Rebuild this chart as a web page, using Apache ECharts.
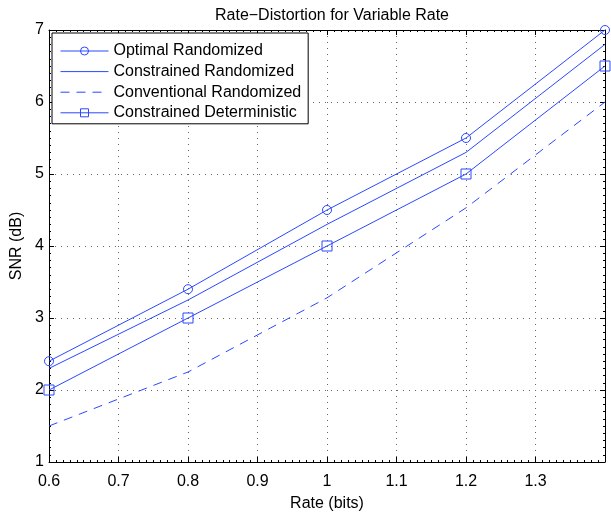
<!DOCTYPE html>
<html>
<head>
<meta charset="utf-8">
<script src="https://cdn.jsdelivr.net/npm/echarts@6/dist/echarts.min.js"></script>
<style>
html,body{margin:0;padding:0;background:#fff;}
#chart{width:611px;height:517px;}
</style>
</head>
<body>
<div id="chart"></div>
<script>
// Data
const rates = [0.6, 0.8, 1.0, 1.2, 1.4];
const optimalRandomized = [2.4, 3.4, 4.5, 5.5, 7.0];
const constrainedRandomized = [2.3, 3.25, 4.3, 5.3, 6.8];
const conventionalRandomized = [1.5, 2.25, 3.28, 4.53, 6.0];
const constrainedDeterministic = [2.0, 3.0, 4.0, 5.0, 6.5];
const seriesNames = ['Optimal Randomized', 'Constrained Randomized', 'Conventional Randomized', 'Constrained Deterministic'];
const xTicks = [0.6, 0.7, 0.8, 0.9, 1.0, 1.1, 1.2, 1.3];
const yTicks = [1, 2, 3, 4, 5, 6, 7];

const BLUE = '#2a48ff';
const FONT = '"Liberation Sans", Arial, Helvetica, sans-serif';
const pairs = (ys) => rates.map((x, i) => [x, ys[i]]);
const hiddenMarker = {color: 'rgba(0,0,0,0)', borderColor: 'rgba(0,0,0,0)', borderWidth: 0};
const hollowMarker = {color: 'rgba(255,255,255,0)', borderColor: BLUE, borderWidth: 1};

const chart = echarts.init(document.getElementById('chart'), null, {renderer: 'canvas'});

const tickCommon = {
  axisLine: {show: true, onZero: false, lineStyle: {color: '#000', width: 1}},
  axisTick: {show: true, inside: true, length: 5, lineStyle: {color: '#000', width: 1}},
  minorTick: {show: true, splitNumber: 10, length: 2, lineStyle: {color: '#000', width: 1}}
};

const option = {
  animation: false,
  backgroundColor: '#fff',
  textStyle: {fontFamily: FONT},
  title: {
    text: 'Rate\u2212Distortion for Variable Rate',
    left: 327, top: 3, textAlign: 'center',
    textStyle: {fontFamily: FONT, fontSize: 16, fontWeight: 'normal', color: '#000'}
  },
  grid: {left: 49, right: 6, top: 30, bottom: 49, containLabel: false},
  legend: {
    orient: 'vertical', left: 52, top: 33,
    data: [
      {name: seriesNames[0], itemStyle: hollowMarker},
      {name: seriesNames[1], itemStyle: hiddenMarker},
      {name: seriesNames[2], itemStyle: hiddenMarker},
      {name: seriesNames[3], itemStyle: hollowMarker}
    ],
    itemWidth: 48, itemHeight: 10, itemGap: 4.6,
    padding: [10, 7, 3, 8],
    borderColor: '#000', borderWidth: 1, backgroundColor: '#fff',
    lineStyle: {width: 1},
    textStyle: {fontFamily: FONT, fontSize: 16, lineHeight: 16, color: '#000'},
    selectedMode: false
  },
  xAxis: [
    Object.assign({
      type: 'value', min: 0.6, max: 1.4, interval: 0.1, position: 'bottom',
      name: 'Rate (bits)', nameLocation: 'middle', nameGap: 34,
      nameTextStyle: {fontFamily: FONT, fontSize: 16, color: '#000'},
      axisLabel: {
        fontFamily: FONT, fontSize: 16, color: '#000', margin: 12, showMinLabel: true, showMaxLabel: true,
        formatter: function (v) {
          const r = +(+v).toFixed(1);
          return xTicks.indexOf(r) >= 0 ? String(r) : '';
        }
      },
      splitLine: {show: true, lineStyle: {color: '#666', width: 1, type: [1, 5]}}
    }, tickCommon),
    Object.assign({
      type: 'value', min: 0.6, max: 1.4, interval: 0.1, position: 'top',
      axisLabel: {show: false}, splitLine: {show: false}
    }, tickCommon)
  ],
  yAxis: [
    Object.assign({
      type: 'value', min: 1, max: 7, interval: 1, position: 'left',
      name: 'SNR (dB)', nameLocation: 'middle', nameGap: 21, nameRotate: 90,
      nameTextStyle: {fontFamily: FONT, fontSize: 16, color: '#000'},
      axisLabel: {
        fontFamily: FONT, fontSize: 16, color: '#000', margin: 5,
        formatter: function (v) {
          const r = Math.round(v);
          return yTicks.indexOf(r) >= 0 ? String(r) : '';
        }
      },
      splitLine: {show: true, lineStyle: {color: '#666', width: 1, type: [1, 5]}}
    }, tickCommon),
    Object.assign({
      type: 'value', min: 1, max: 7, interval: 1, position: 'right',
      axisLabel: {show: false}, splitLine: {show: false}
    }, tickCommon)
  ],
  series: [
    {
      name: seriesNames[0], type: 'line', data: pairs(optimalRandomized),
      symbol: 'circle', symbolSize: 9, showAllSymbol: true,
      lineStyle: {color: BLUE, width: 1}, itemStyle: hollowMarker,
      z: 5
    },
    {
      name: seriesNames[1], type: 'line', data: pairs(constrainedRandomized),
      symbol: 'none',
      lineStyle: {color: BLUE, width: 1}, itemStyle: {color: BLUE}
    },
    {
      name: seriesNames[2], type: 'line', data: pairs(conventionalRandomized),
      symbol: 'none',
      lineStyle: {color: BLUE, width: 1, type: [9, 7]}, itemStyle: {color: BLUE}
    },
    {
      name: seriesNames[3], type: 'line', data: pairs(constrainedDeterministic),
      symbol: 'rect', symbolSize: 10, showAllSymbol: true,
      lineStyle: {color: BLUE, width: 1}, itemStyle: hollowMarker,
      z: 5
    }
  ]
};
chart.setOption(option);
</script>
</body>
</html>
